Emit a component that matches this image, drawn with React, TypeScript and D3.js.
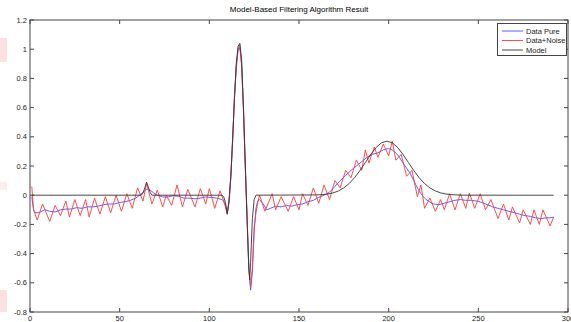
import React from 'react';
import * as d3 from 'd3';

const W = 571;
const H = 322;
const title = 'Model-Based Filtering Algorithm Result';
const xTicks = [0, 50, 100, 150, 200, 250, 300];
const yTicks = [-0.8, -0.6, -0.4, -0.2, 0, 0.2, 0.4, 0.6, 0.8, 1, 1.2];
const legendLabels = ['Data Pure', 'Data+Noise', 'Model'];

const pureT = [1,2,3,5,8,11,14,17,20,23,26,29,32,35,38,41,44,47,50,53,56,59,61,63,65,66,67,69,71,74,77,80,83,86,89,92,95,98,101,104,107,108,109,110,111,112,113,114,115,116,117,118,119,120,121,122,123,124,125,126,127,128,130,132,134,137,140,143,146,149,152,155,158,161,164,167,170,173,176,179,182,185,188,191,194,197,200,202,204,206,208,210,212,214,216,218,220,222,225,228,231,234,237,240,243,246,249,252,255,258,261,264,267,270,273,276,279,282,285,288,290,292];
const pureV = [-0.01,-0.10,-0.12,-0.12,-0.10,-0.11,-0.115,-0.10,-0.095,-0.095,-0.085,-0.09,-0.08,-0.08,-0.075,-0.065,-0.06,-0.06,-0.05,-0.045,-0.035,-0.02,0.0,0.02,0.04,0.042,0.035,0.015,0.0,-0.012,-0.012,-0.003,-0.008,-0.02,-0.02,-0.025,-0.02,-0.012,-0.015,-0.02,-0.03,-0.04,-0.07,-0.12,-0.05,0.12,0.38,0.66,0.88,0.99,1.01,0.90,0.58,0.22,-0.14,-0.48,-0.65,-0.52,-0.25,-0.09,-0.04,-0.03,-0.06,-0.10,-0.09,-0.075,-0.08,-0.07,-0.075,-0.065,-0.06,-0.045,-0.035,-0.015,0.0,0.02,0.06,0.10,0.135,0.17,0.20,0.23,0.26,0.28,0.29,0.31,0.32,0.31,0.29,0.26,0.22,0.185,0.15,0.10,0.05,0.01,-0.02,-0.04,-0.06,-0.065,-0.055,-0.045,-0.035,-0.03,-0.035,-0.035,-0.04,-0.05,-0.065,-0.08,-0.09,-0.10,-0.11,-0.12,-0.13,-0.14,-0.145,-0.155,-0.16,-0.155,-0.155,-0.15];

const noisyT = [1,2,4,7,11,14,17,20,22,25,28,31,33,36,39,42,45,48,51,54,57,60,63,65,68,71,74,76,79,82,85,88,92,95,98,100,103,106,108,109,110,111,112,113,114,115,116,117,118,119,120,121,122,123,124,125,126,127,128,131,135,137,140,144,147,150,152,155,158,161,164,167,170,173,176,179,182,185,187,189,192,194,197,200,202,204,207,210,213,216,218,220,223,226,229,231,234,237,240,243,245,248,251,254,257,261,264,267,269,273,275,279,281,284,286,290,292];
const noisyV = [0.06,-0.10,-0.17,-0.06,-0.18,-0.07,-0.14,-0.04,-0.15,-0.03,-0.14,-0.03,-0.15,-0.02,-0.13,-0.01,-0.12,0.0,-0.11,0.01,-0.09,0.05,-0.04,0.08,-0.06,0.035,-0.08,0.0,-0.07,0.07,-0.08,0.04,-0.08,0.045,-0.06,0.045,-0.09,0.03,-0.04,-0.08,-0.13,-0.04,0.14,0.37,0.68,0.86,1.0,1.03,0.88,0.60,0.20,-0.12,-0.50,-0.63,-0.50,-0.22,-0.12,-0.05,0.0,-0.11,0.01,-0.10,-0.01,-0.11,-0.01,-0.10,0.01,-0.07,0.05,-0.055,0.07,-0.03,0.10,0.05,0.17,0.12,0.24,0.17,0.31,0.22,0.33,0.26,0.35,0.27,0.37,0.24,0.28,0.13,0.17,-0.01,0.07,-0.09,-0.02,-0.11,-0.03,-0.10,0.01,-0.10,0.01,-0.09,0.015,-0.09,0.01,-0.10,-0.03,-0.16,-0.06,-0.17,-0.08,-0.19,-0.10,-0.20,-0.10,-0.20,-0.10,-0.21,-0.15];

const modelT = [1,62,63,64,65,66,67,68,107,108,109,110,111,112,113,114,115,116,117,118,119,120,121,122,122.5,123,124,125,126,160,163,166,169,172,175,178,181,184,187,190,193,196,199,202,205,208,211,214,217,220,223,226,229,232,235,238,241,292];
const modelV = [0,0,0.015,0.05,0.09,0.055,0.02,0,0,-0.01,-0.05,-0.13,-0.03,0.13,0.39,0.66,0.9,1.02,1.04,0.93,0.62,0.24,-0.16,-0.5,-0.58,-0.46,-0.16,-0.03,0,0.002,0.004,0.008,0.016,0.029,0.05,0.08,0.12,0.169,0.224,0.279,0.327,0.359,0.37,0.359,0.327,0.279,0.224,0.169,0.12,0.08,0.05,0.029,0.016,0.008,0.004,0.002,0,0];

const seriesColors = ['#4d4dff', '#ff3b3b', '#333333'];
const FONT = 'Liberation Sans, Arial, sans-serif';

export default function App() {
  const x = d3.scaleLinear().domain([0, 300]).range([30, 568]);
  const y = d3.scaleLinear().domain([-0.8, 1.2]).range([312, 20]);
  const line = d3
    .line<number>()
    .x((_, i, arr) => 0)
    .y(() => 0);
  const mk = (ts: number[], vs: number[]) =>
    d3
      .line<number>()
      .x((t) => x(t))
      .y((_, i) => y(vs[i]))(ts) as string;
  void line;
  const paths = [mk(pureT, pureV), mk(noisyT, noisyV), mk(modelT, modelV)];
  const [x0, x1] = x.range();
  const [yb, yt] = y.range();
  const axisColor = '#444';

  return (
    <svg
      width={W}
      height={H}
      style={{ position: 'absolute', left: 0, top: 0, background: '#fff' }}
      fontFamily={FONT}
    >
      <rect x={0} y={0} width={W} height={H} fill="#fff" />
      {/* faint edge artifacts */}
      <rect x={0} y={38} width={7} height={24} fill="#fbe0e2" />
      <rect x={0} y={182} width={7} height={8} fill="#fdeeee" />
      <rect x={0} y={290} width={7} height={22} fill="#fbdfe1" />

      <text x={(x0 + x1) / 2} y={12} fontSize={8} textAnchor="middle" fill="#000">
        {title}
      </text>

      {paths.map((d, i) => (
        <path key={i} d={d} fill="none" stroke={seriesColors[i]} strokeWidth={0.9} />
      ))}

      <rect x={x0} y={yt} width={x1 - x0} height={yb - yt} fill="none" stroke={axisColor} strokeWidth={1} />
      {xTicks.map((t) => (
        <g key={'x' + t}>
          <line x1={x(t)} x2={x(t)} y1={yb} y2={yb - 4} stroke={axisColor} />
          <line x1={x(t)} x2={x(t)} y1={yt} y2={yt + 4} stroke={axisColor} />
          <text x={x(t)} y={yb + 9} fontSize={7.5} textAnchor="middle" fill="#222">
            {t}
          </text>
        </g>
      ))}
      {yTicks.map((t) => (
        <g key={'y' + t}>
          <line x1={x0} x2={x0 + 4} y1={y(t)} y2={y(t)} stroke={axisColor} />
          <line x1={x1} x2={x1 - 4} y1={y(t)} y2={y(t)} stroke={axisColor} />
          <text x={x0 - 3} y={y(t) + 2.6} fontSize={7.5} textAnchor="end" fill="#222">
            {t}
          </text>
        </g>
      ))}

      <g>
        <rect x={497.5} y={23.5} width={69} height={32} fill="#fff" stroke={axisColor} strokeWidth={1} />
        {legendLabels.map((lab, i) => (
          <g key={lab}>
            <line x1={502} x2={523} y1={31 + i * 9.5} y2={31 + i * 9.5} stroke={seriesColors[i]} strokeWidth={0.9} />
            <text x={526} y={31 + i * 9.5 + 2.7} fontSize={7.5} fill="#222">
              {lab}
            </text>
          </g>
        ))}
      </g>
    </svg>
  );
}
